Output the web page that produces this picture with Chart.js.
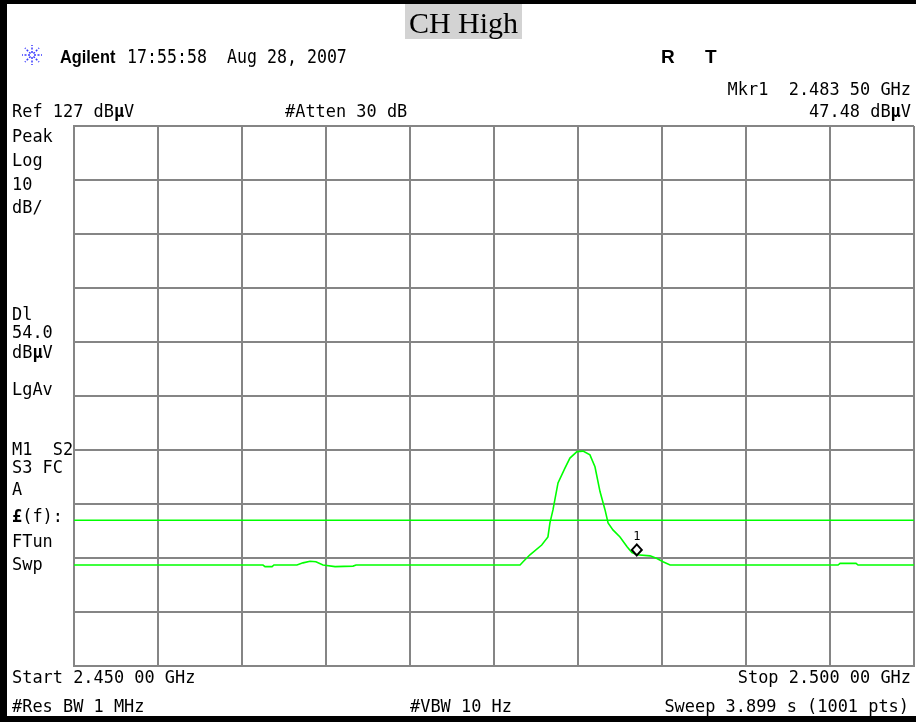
<!DOCTYPE html>
<html>
<head>
<meta charset="utf-8">
<script src="https://cdn.jsdelivr.net/npm/chart.js@4/dist/chart.umd.min.js"></script>
<style>
html, body { margin: 0; padding: 0; background: #fff; }
#wrap { position: relative; width: 916px; height: 722px; overflow: hidden; }
#screen { position: absolute; left: 0; top: 0; }
</style>
</head>
<body>
<div id="wrap">
  <canvas id="screen" width="916" height="722"></canvas>
</div>
<script>
// sweep settings (MHz / dBuV)
const startMHz = 2450;
const stopMHz = 2500;
const mhzPerDiv = 5;
const refLevel = 127;
const dbPerDiv = 10;
const displayLine = 54.0;

// trace
const freqMHz = [
    2450.00, 2461.25, 2461.37, 2461.79, 2461.90, 2463.27, 2463.63, 2464.05,
    2464.40, 2464.82, 2465.54, 2466.61, 2466.79, 2476.55, 2476.73, 2477.14,
    2477.84, 2478.21, 2478.33, 2478.51, 2478.81, 2479.23, 2479.52, 2479.94,
    2480.30, 2480.71, 2481.01, 2481.31, 2481.61, 2481.79, 2482.08, 2482.50,
    2482.92, 2483.21, 2483.51, 2484.29, 2484.70, 2485.06, 2485.48, 2495.48,
    2495.60, 2496.55, 2496.67, 2500.00
];
const traceDbuV = [
    45.7, 45.7, 45.4, 45.4, 45.7, 45.7, 46.1, 46.4,
    46.3, 45.7, 45.4, 45.5, 45.7, 45.7, 46.3, 47.6,
    49.4, 50.9, 53.5, 55.9, 60.9, 63.7, 65.5, 66.7,
    66.8, 66.1, 63.9, 59.3, 55.9, 53.5, 52.2, 50.9,
    49.1, 48.0, 47.6, 47.4, 46.9, 46.3, 45.7, 45.7,
    46.0, 46.0, 45.7, 45.7
];

// marker 1
const markerMHz = 2483.50;
const markerDbuV = 47.48;

// annotation texts
const titleText = 'CH High';
const leftLabels = [
    ['Peak'], ['Log'], ['10'], ['dB/'],
    ['Dl'], ['54.0'], ['dB', 'µ', 'V'], ['LgAv'],
    ['M1  S2'], ['S3 FC'], ['A'], ['', '£', '(f):'], ['FTun'], ['Swp']
];

const MONO = '"DejaVu Sans Mono", "Liberation Mono", monospace';
const SANS = '"Liberation Sans", Arial, sans-serif';

// parts alternate normal / bold
function drawParts(ctx, parts, x, y, align, size, sx) {
    ctx.save();
    ctx.textBaseline = 'alphabetic';
    ctx.textAlign = 'left';
    let total = 0;
    parts.forEach((p, i) => {
        ctx.font = (i % 2 ? 'bold ' : '') + size + 'px ' + MONO;
        total += ctx.measureText(p).width;
    });
    ctx.translate(x, y);
    ctx.scale(sx, 1);
    let cx = align === 'right' ? -total : 0;
    parts.forEach((p, i) => {
        ctx.font = (i % 2 ? 'bold ' : '') + size + 'px ' + MONO;
        ctx.fillText(p, cx, 0);
        cx += ctx.measureText(p).width;
    });
    ctx.restore();
}

function drawLogo(ctx, cx, cy, r) {
    ctx.save();
    ctx.strokeStyle = '#3b3bff';
    ctx.lineWidth = 1.5;
    ctx.setLineDash([2, 1.5]);
    for (let i = 0; i < 8; i++) {
        const a = i * Math.PI / 4;
        ctx.beginPath();
        ctx.moveTo(cx + Math.cos(a) * 2, cy + Math.sin(a) * 2);
        ctx.lineTo(cx + Math.cos(a) * r, cy + Math.sin(a) * r);
        ctx.stroke();
    }
    ctx.restore();
}

const screenText = {
    id: 'screenText',
    afterDraw(chart) {
        const ctx = chart.ctx;
        ctx.fillStyle = '#000';

        // frame bars
        ctx.fillRect(0, 0, 916, 4);
        ctx.fillRect(0, 0, 7, 722);
        ctx.fillRect(0, 716, 916, 6);

        // title box
        ctx.fillStyle = '#d3d3d3';
        ctx.fillRect(405, 4, 117, 35);
        ctx.fillStyle = '#000';
        ctx.font = '30px "Liberation Serif", "Times New Roman", serif';
        ctx.textAlign = 'center';
        ctx.textBaseline = 'alphabetic';
        ctx.fillText(titleText, 463.5, 33);

        // header
        drawLogo(ctx, 32, 55, 10);
        ctx.save();
        ctx.textAlign = 'left';
        ctx.font = 'bold 19px ' + SANS;
        ctx.translate(60, 63);
        ctx.scale(0.86, 1);
        ctx.fillText('Agilent', 0, 0);
        ctx.restore();
        drawParts(ctx, ['17:55:58  Aug 28, 2007'], 127, 63, 'left', 20, 0.83);
        ctx.textAlign = 'left';
        ctx.font = 'bold 19px ' + SANS;
        ctx.fillText('R', 661, 63);
        ctx.fillText('T', 705, 63);

        const S = 18.5, K = 0.915;
        drawParts(ctx, ['Mkr1  2.483 50 GHz'], 911, 95, 'right', S, K);
        drawParts(ctx, ['Ref 127 dB', 'µ', 'V'], 12, 117, 'left', S, K);
        drawParts(ctx, ['#Atten 30 dB'], 285, 117, 'left', S, K);
        drawParts(ctx, ['47.48 dB', 'µ', 'V'], 911, 117, 'right', S, K);

        const leftY = [142, 166, 190, 213, 320, 338, 358, 395, 455, 473, 495, 522, 547, 570];
        leftLabels.forEach((parts, i) => drawParts(ctx, parts, 12, leftY[i], 'left', S, K));

        drawParts(ctx, ['Start 2.450 00 GHz'], 12, 683, 'left', S, K);
        drawParts(ctx, ['Stop 2.500 00 GHz'], 911, 683, 'right', S, K);
        drawParts(ctx, ['#Res BW 1 MHz'], 12, 712, 'left', S, K);
        drawParts(ctx, ['#VBW 10 Hz'], 410, 712, 'left', S, K);
        drawParts(ctx, ['Sweep 3.899 s (1001 pts)'], 909, 712, 'right', S, K);

        // marker diamond sits on the trace point
        const px = chart.scales.x.getPixelForValue(markerMHz);
        const py = chart.scales.y.getPixelForValue(markerDbuV);
        ctx.save();
        ctx.strokeStyle = '#000';
        ctx.lineWidth = 2;
        ctx.beginPath();
        ctx.moveTo(px, py);
        ctx.lineTo(px + 5, py - 5.5);
        ctx.lineTo(px, py - 11);
        ctx.lineTo(px - 5, py - 5.5);
        ctx.closePath();
        ctx.stroke();
        ctx.font = '12px ' + MONO;
        ctx.textAlign = 'center';
        ctx.fillStyle = '#000';
        ctx.fillText('1', px, py - 15);
        ctx.restore();
    }
};

const traceData = freqMHz.map((f, i) => ({ x: f, y: traceDbuV[i] }));
const dlData = [{ x: startMHz, y: displayLine }, { x: stopMHz, y: displayLine }];

const gridColor = '#858585';
const axisBase = {
    type: 'linear',
    ticks: { display: false },
    grid: { color: gridColor, lineWidth: 2, drawTicks: false },
    border: { color: gridColor, width: 2 },
};

const chart = new Chart(document.getElementById('screen'), {
    type: 'line',
    data: {
        datasets: [
            { label: 'Trace', data: traceData, borderColor: '#00ff00', borderWidth: 1.6, pointRadius: 0, tension: 0 },
            { label: 'Dl', data: dlData, borderColor: '#00ff00', borderWidth: 1.6, pointRadius: 0 },
        ]
    },
    options: {
        responsive: false,
        animation: false,
        devicePixelRatio: 1,
        layout: { padding: { left: 74, top: 126, right: 2, bottom: 56 } },
        plugins: { legend: { display: false }, tooltip: { enabled: false } },
        scales: {
            x: Object.assign({}, axisBase, {
                min: startMHz, max: stopMHz,
                ticks: { display: false, stepSize: mhzPerDiv },
            }),
            y: Object.assign({}, axisBase, {
                min: refLevel - 10 * dbPerDiv, max: refLevel,
                ticks: { display: false, stepSize: dbPerDiv },
            }),
        }
    },
    plugins: [screenText]
});
</script>
</body>
</html>
